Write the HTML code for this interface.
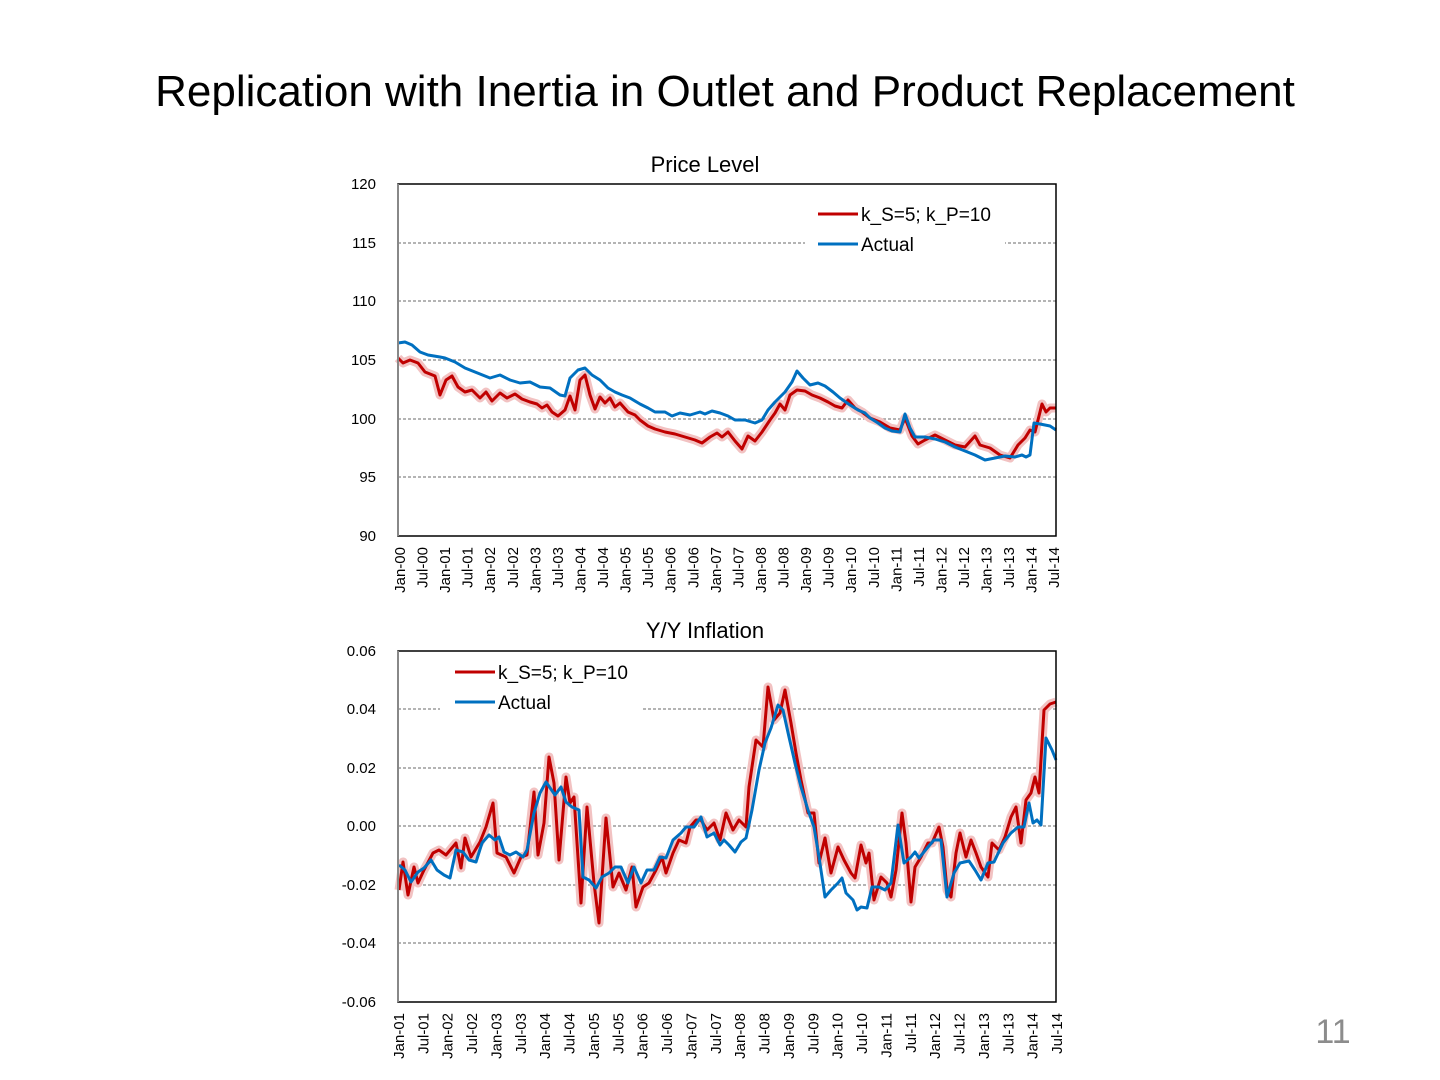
<!DOCTYPE html>
<html><head><meta charset="utf-8"><style>
html,body{margin:0;padding:0;background:#fff;}
svg{display:block;font-family:"Liberation Sans",sans-serif;}
</style></head><body>
<svg width="1440" height="1080" viewBox="0 0 1440 1080" xmlns="http://www.w3.org/2000/svg">
<defs>
<clipPath id="c1"><rect x="330" y="540" width="760" height="57"/></clipPath>
</defs>
<text x="725" y="106" font-size="44" text-anchor="middle" fill="#000">Replication with Inertia in Outlet and Product Replacement</text>
<text x="1333" y="1043" font-size="34" text-anchor="middle" fill="#8c8c8c">11</text>

<!-- TOP CHART -->
<text x="705" y="172" font-size="22" text-anchor="middle">Price Level</text>
<g stroke="#888" stroke-width="1.2" stroke-dasharray="3,2">
<line x1="398" y1="243" x2="1056" y2="243"/><line x1="398" y1="301" x2="1056" y2="301"/>
<line x1="398" y1="360" x2="1056" y2="360"/><line x1="398" y1="419" x2="1056" y2="419"/>
<line x1="398" y1="477" x2="1056" y2="477"/>
</g>
<g font-size="15" text-anchor="end">
<text x="376" y="189">120</text><text x="376" y="248">115</text><text x="376" y="306">110</text>
<text x="376" y="365">105</text><text x="376" y="424">100</text><text x="376" y="482">95</text><text x="376" y="541">90</text>
</g>
<g fill="none" stroke-linejoin="round">
<polyline stroke="#f2c2c2" stroke-width="9" points="398,358 403,363 410,360 418,363 425,372 435,376 440,395 446,380 452,376 458,387 465,392 472,390 480,398 486,392 492,401 500,393 507,398 515,394 522,399 530,402 537,404 542,408 547,405 552,412 558,416 565,410 570,396 575,410 580,380 585,375 590,395 595,409 600,397 605,403 610,398 615,407 620,403 628,412 635,415 640,420 648,426 655,429 665,432 675,434 685,437 695,440 702,443 710,437 717,433 722,437 728,432 735,441 742,449 748,436 755,441 762,432 770,420 775,413 780,404 785,410 790,395 797,390 805,391 812,395 820,398 828,402 835,406 842,408 848,400 855,408 862,412 870,418 880,422 890,428 900,430 905,418 912,436 918,444 925,440 935,435 945,440 955,445 965,447 975,436 980,445 990,448 1000,455 1010,458 1018,445 1025,438 1030,430 1035,432 1042,404 1046,412 1050,408 1056,408"/>
<polyline stroke="#c00000" stroke-width="3" points="398,358 403,363 410,360 418,363 425,372 435,376 440,395 446,380 452,376 458,387 465,392 472,390 480,398 486,392 492,401 500,393 507,398 515,394 522,399 530,402 537,404 542,408 547,405 552,412 558,416 565,410 570,396 575,410 580,380 585,375 590,395 595,409 600,397 605,403 610,398 615,407 620,403 628,412 635,415 640,420 648,426 655,429 665,432 675,434 685,437 695,440 702,443 710,437 717,433 722,437 728,432 735,441 742,449 748,436 755,441 762,432 770,420 775,413 780,404 785,410 790,395 797,390 805,391 812,395 820,398 828,402 835,406 842,408 848,400 855,408 862,412 870,418 880,422 890,428 900,430 905,418 912,436 918,444 925,440 935,435 945,440 955,445 965,447 975,436 980,445 990,448 1000,455 1010,458 1018,445 1025,438 1030,430 1035,432 1042,404 1046,412 1050,408 1056,408"/>
<polyline stroke="#0070c0" stroke-width="3" points="398,343 405,342 412,345 420,352 428,355 440,357 445,358 455,362 465,368 475,372 490,378 500,375 510,380 520,383 530,382 540,387 550,388 560,395 565,396 570,378 578,370 585,368 592,375 600,380 608,388 615,392 622,395 630,398 640,404 648,408 655,412 665,412 672,416 680,413 690,415 700,412 705,414 712,411 720,413 728,416 735,420 745,420 755,423 762,420 768,410 775,402 785,392 792,382 797,371 803,378 810,385 818,383 825,386 833,392 840,398 850,405 858,410 865,413 870,418 878,423 885,428 892,431 900,432 905,414 910,428 915,437 925,437 935,439 945,442 955,447 965,451 975,455 985,460 995,458 1005,456 1015,457 1022,455 1026,457 1030,455 1034,423 1040,424 1050,426 1056,430"/>
</g>
<rect x="805" y="200" width="200" height="60" fill="#fff"/>
<line x1="818" y1="214" x2="858" y2="214" stroke="#c00000" stroke-width="3"/>
<line x1="818" y1="244" x2="858" y2="244" stroke="#0070c0" stroke-width="3"/>
<text x="861" y="221" font-size="19">k_S=5; k_P=10</text>
<text x="861" y="251" font-size="19">Actual</text>
<rect x="398" y="184" width="658" height="352" fill="none" stroke="#000" stroke-width="1.5"/>
<line x1="398" y1="184" x2="398" y2="536" stroke="#888" stroke-width="2"/>
<g font-size="15" text-anchor="end" clip-path="url(#c1)" id="tx1"></g>

<!-- BOTTOM CHART -->
<text x="705" y="638" font-size="22" text-anchor="middle">Y/Y Inflation</text>
<g stroke="#888" stroke-width="1.2" stroke-dasharray="3,2">
<line x1="398" y1="709" x2="1056" y2="709"/><line x1="398" y1="768" x2="1056" y2="768"/>
<line x1="398" y1="826" x2="1056" y2="826"/><line x1="398" y1="885" x2="1056" y2="885"/>
<line x1="398" y1="943" x2="1056" y2="943"/>
</g>
<g font-size="15" text-anchor="end">
<text x="376" y="656">0.06</text><text x="376" y="714">0.04</text><text x="376" y="773">0.02</text>
<text x="376" y="831">0.00</text><text x="376" y="890">-0.02</text><text x="376" y="948">-0.04</text><text x="376" y="1007">-0.06</text>
</g>
<g fill="none" stroke-linejoin="round">
<polyline stroke="#f2c2c2" stroke-width="9" points="399,890 403,862 408,895 414,867 418,883 424,870 433,853 439,850 446,855 456,843 461,868 465,838 471,857 480,842 486,827 493,803 497,853 506,857 514,873 521,857 527,855 534,792 538,855 544,823 549,757 554,783 559,860 566,777 570,803 574,797 581,903 587,807 594,883 599,923 606,818 613,887 619,873 626,890 632,867 636,907 643,887 649,883 656,870 662,857 666,873 673,853 679,840 686,843 690,827 696,820 701,820 707,830 714,823 720,840 726,813 733,830 739,820 746,827 749,787 756,740 763,747 768,687 774,720 780,713 785,690 791,723 796,753 801,780 808,813 814,813 819,863 825,838 831,873 838,847 844,860 851,873 855,878 861,845 866,863 869,853 874,900 881,877 887,883 891,897 896,870 902,813 906,843 911,902 915,867 921,857 928,843 932,843 939,827 943,847 947,890 951,897 956,853 960,833 966,857 971,840 976,853 981,867 988,877 992,843 999,850 1005,837 1011,817 1016,807 1021,843 1026,800 1031,793 1035,777 1039,793 1044,710 1050,704 1056,702"/>
<polyline stroke="#c00000" stroke-width="3" points="399,890 403,862 408,895 414,867 418,883 424,870 433,853 439,850 446,855 456,843 461,868 465,838 471,857 480,842 486,827 493,803 497,853 506,857 514,873 521,857 527,855 534,792 538,855 544,823 549,757 554,783 559,860 566,777 570,803 574,797 581,903 587,807 594,883 599,923 606,818 613,887 619,873 626,890 632,867 636,907 643,887 649,883 656,870 662,857 666,873 673,853 679,840 686,843 690,827 696,820 701,820 707,830 714,823 720,840 726,813 733,830 739,820 746,827 749,787 756,740 763,747 768,687 774,720 780,713 785,690 791,723 796,753 801,780 808,813 814,813 819,863 825,838 831,873 838,847 844,860 851,873 855,878 861,845 866,863 869,853 874,900 881,877 887,883 891,897 896,870 902,813 906,843 911,902 915,867 921,857 928,843 932,843 939,827 943,847 947,890 951,897 956,853 960,833 966,857 971,840 976,853 981,867 988,877 992,843 999,850 1005,837 1011,817 1016,807 1021,843 1026,800 1031,793 1035,777 1039,793 1044,710 1050,704 1056,702"/>
<polyline stroke="#0070c0" stroke-width="3" points="399,865 405,870 411,882 418,872 424,868 431,860 437,870 444,875 450,878 456,850 463,852 469,860 476,862 482,843 489,835 495,840 499,837 504,852 510,855 516,852 523,857 527,850 534,813 540,793 546,782 555,795 561,787 566,802 572,807 579,810 583,877 589,880 596,888 602,877 609,873 615,867 621,867 628,883 634,867 641,883 647,870 654,870 660,857 666,858 673,840 681,833 686,827 694,827 701,817 707,837 714,833 720,845 724,840 729,845 735,852 741,842 746,838 752,810 759,770 765,743 771,728 778,705 783,710 789,737 795,763 801,787 808,810 814,827 819,857 825,897 831,890 838,883 842,878 846,893 853,900 857,910 861,907 867,908 872,887 879,887 885,890 891,883 898,825 904,863 911,857 915,852 919,858 928,847 934,840 941,840 947,897 954,873 960,863 969,861 975,870 981,880 988,863 994,862 1003,843 1011,833 1018,827 1024,827 1029,803 1033,823 1037,820 1041,825 1046,738 1052,750 1056,760"/>
</g>
<rect x="440" y="660" width="203" height="60" fill="#fff"/>
<line x1="455" y1="672" x2="495" y2="672" stroke="#c00000" stroke-width="3"/>
<line x1="455" y1="702" x2="495" y2="702" stroke="#0070c0" stroke-width="3"/>
<text x="498" y="679" font-size="19">k_S=5; k_P=10</text>
<text x="498" y="709" font-size="19">Actual</text>
<rect x="398" y="651" width="658" height="351" fill="none" stroke="#000" stroke-width="1.5"/>
<line x1="398" y1="651" x2="398" y2="1002" stroke="#888" stroke-width="2"/>
<g font-size="15" text-anchor="end" id="tx2"></g>
</svg>
<script>
(function(){
var ns="http://www.w3.org/2000/svg";
var g1=document.getElementById("tx1"),g2=document.getElementById("tx2");
function add(g,x,y,s){var t=document.createElementNS(ns,"text");t.setAttribute("transform","translate("+x+","+y+") rotate(-90)");t.textContent=s;g.appendChild(t);}
for(var i=0;i<30;i++){var yr=Math.floor(i/2);var s=(i%2?"Jul-":"Jan-")+(yr<10?"0":"")+yr;add(g1,(400+i*22.56+5).toFixed(1),547,s);}
for(var i=0;i<28;i++){var yr=1+Math.floor(i/2);var s=(i%2?"Jul-":"Jan-")+(yr<10?"0":"")+yr;add(g2,(399+i*24.37+5).toFixed(1),1013,s);}
})();
</script>
</body></html>
